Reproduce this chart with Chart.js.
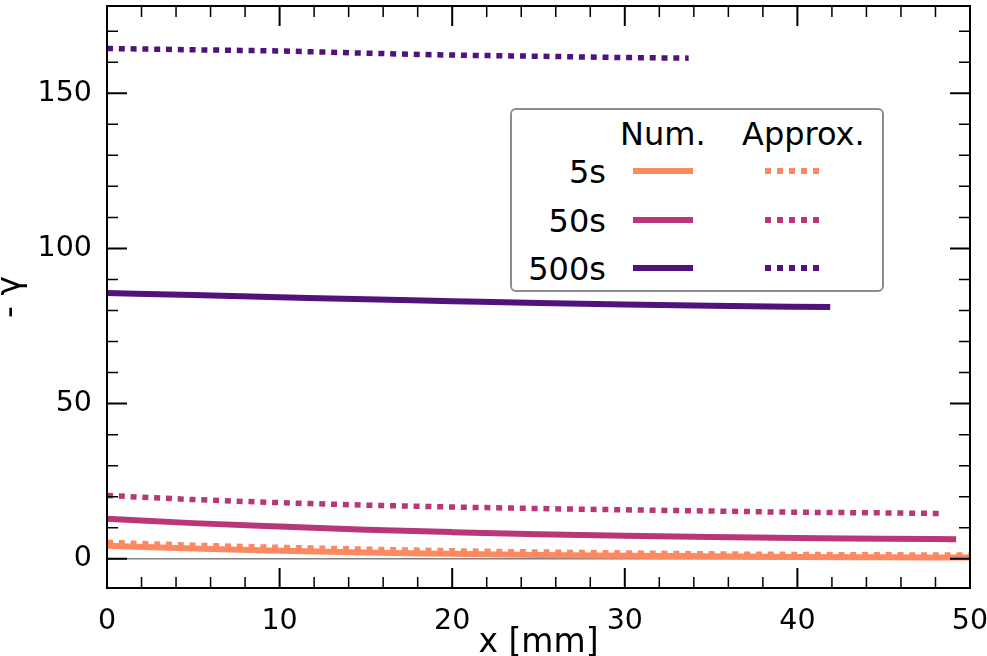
<!DOCTYPE html>
<html lang="en">
<head>
    <meta charset="UTF-8">
    <title>- γ vs x [mm]</title>
    <style>
        body {
            margin: 0;
            background: #ffffff;
            font-family: "DejaVu Sans", sans-serif;
        }
        #wrap {
            position: relative;
            width: 987px;
            height: 656px;
            overflow: hidden;
        }
        #legendBox {
            position: absolute;
            left: 510px;
            top: 108px;
            width: 370px;
            height: 180px;
            border: 2px solid #8c8c8c;
            border-radius: 6px;
            background: #ffffff;
        }
        .lg-text {
            position: absolute;
            font-size: 32px;
            line-height: 32px;
            white-space: nowrap;
            color: #000000;
        }
        .lg-line {
            position: absolute;
        }
    </style>
    <script src="https://cdn.jsdelivr.net/npm/chart.js"></script>
</head>
<body>
    <div id="wrap">
        <canvas id="gammaChart" width="987" height="656"></canvas>
        <div id="legendBox"></div>
    </div>

    <script>
        // series labels and colours (magma colormap)
        const seriesNames = ['5s', '50s', '500s'];
        const colors = ['#fc8961', '#b73779', '#51127c'];
        const columnNames = ['Num.', 'Approx.'];

        // values
        const xs5 = [0, 5, 10, 15, 20, 25, 30, 35, 40, 45, 50];
        const num5 = [4.2, 3.3, 2.6, 2.0, 1.6, 1.2, 1.0, 0.8, 0.6, 0.5, 0.4];
        const approx5 = [5.3, 4.4, 3.7, 3.1, 2.6, 2.2, 1.9, 1.6, 1.4, 1.3, 1.2];

        const xsNum50 = [0, 5, 10, 15, 20, 25, 30, 35, 40, 45, 49.2];
        const num50 = [12.9, 11.5, 10.4, 9.4, 8.6, 7.9, 7.4, 7.0, 6.7, 6.5, 6.3];
        const xsApprox50 = [0, 5, 10, 15, 20, 25, 30, 35, 40, 45, 48.3];
        const approx50 = [20.4, 19.1, 18.1, 17.3, 16.7, 16.2, 15.8, 15.4, 15.0, 14.8, 14.6];

        const xsNum500 = [0, 5, 10, 15, 20, 25, 30, 35, 41.9];
        const num500 = [85.6, 85.0, 84.3, 83.6, 83.0, 82.4, 81.9, 81.5, 81.1];
        const xsApprox500 = [0, 5, 10, 15, 20, 25, 30, 33.7];
        const approx500 = [164.4, 164.0, 163.6, 162.9, 162.3, 161.9, 161.5, 161.3];

        const xsZero = [0, 50];
        const zeroLine = [0, 0];

        // axes
        const xTicks = [0, 10, 20, 30, 40, 50];
        const yTicks = [0, 50, 100, 150];
        const xRange = [0, 50];
        const yRange = [-9.4, 178.1];

        function pts(xs, ys) {
            return xs.map((x, i) => ({ x: x, y: ys[i] }));
        }

        function solid(label, xs, ys, color) {
            return {
                label: label,
                data: pts(xs, ys),
                borderColor: color,
                borderWidth: 6,
                pointRadius: 0,
                cubicInterpolationMode: 'monotone',
                fill: false
            };
        }

        function dotted(label, xs, ys, color) {
            return {
                label: label,
                data: pts(xs, ys),
                borderColor: color,
                borderWidth: 5.5,
                borderDash: [6, 5.8],
                borderCapStyle: 'butt',
                pointRadius: 0,
                cubicInterpolationMode: 'monotone',
                fill: false
            };
        }

        // first dataset is painted on top
        const datasets = [
            dotted('500s Approx.', xsApprox500, approx500, colors[2]),
            solid('500s Num.', xsNum500, num500, colors[2]),
            dotted('50s Approx.', xsApprox50, approx50, colors[1]),
            solid('50s Num.', xsNum50, num50, colors[1]),
            dotted('5s Approx.', xs5, approx5, colors[0]),
            solid('5s Num.', xs5, num5, colors[0]),
            {
                label: 'zero',
                data: pts(xsZero, zeroLine),
                borderColor: '#808080',
                borderWidth: 1.5,
                pointRadius: 0,
                fill: false
            }
        ];

        // frame and inward ticks on all four sides
        const frameTicks = {
            id: 'frameTicks',
            afterDatasetsDraw(chart) {
                const ctx = chart.ctx;
                const a = chart.chartArea;
                const xs = chart.scales.x;
                const ys = chart.scales.y;
                ctx.save();
                ctx.strokeStyle = '#000000';

                ctx.lineWidth = 1.5;
                for (let v = Math.ceil(xs.min / 2) * 2; v <= xs.max; v += 2) {
                    if (v % 10 === 0) continue;
                    const px = xs.getPixelForValue(v);
                    ctx.beginPath();
                    ctx.moveTo(px, a.bottom); ctx.lineTo(px, a.bottom - 11);
                    ctx.moveTo(px, a.top); ctx.lineTo(px, a.top + 11);
                    ctx.stroke();
                }
                for (let v = Math.ceil(ys.min / 10) * 10; v <= ys.max; v += 10) {
                    if (v % 50 === 0) continue;
                    const py = ys.getPixelForValue(v);
                    ctx.beginPath();
                    ctx.moveTo(a.left, py); ctx.lineTo(a.left + 11, py);
                    ctx.moveTo(a.right, py); ctx.lineTo(a.right - 11, py);
                    ctx.stroke();
                }

                ctx.lineWidth = 2;
                xTicks.forEach(v => {
                    const px = xs.getPixelForValue(v);
                    ctx.beginPath();
                    ctx.moveTo(px, a.bottom); ctx.lineTo(px, a.bottom - 20);
                    ctx.moveTo(px, a.top); ctx.lineTo(px, a.top + 20);
                    ctx.stroke();
                });
                yTicks.forEach(v => {
                    const py = ys.getPixelForValue(v);
                    ctx.beginPath();
                    ctx.moveTo(a.left, py); ctx.lineTo(a.left + 20, py);
                    ctx.moveTo(a.right, py); ctx.lineTo(a.right - 20, py);
                    ctx.stroke();
                });

                ctx.lineWidth = 2;
                ctx.strokeRect(a.left, a.top, a.right - a.left, a.bottom - a.top);
                ctx.restore();
            }
        };

        Chart.defaults.font.family = "'DejaVu Sans', sans-serif";
        Chart.defaults.color = '#000000';

        const ctx = document.getElementById('gammaChart').getContext('2d');
        const gammaChart = new Chart(ctx, {
            type: 'line',
            data: { datasets: datasets },
            options: {
                responsive: false,
                animation: false,
                devicePixelRatio: 1,
                layout: { padding: { left: 0, right: 17, top: 6, bottom: 0 } },
                plugins: {
                    legend: { display: false },
                    tooltip: { enabled: false }
                },
                scales: {
                    x: {
                        type: 'linear',
                        min: xRange[0],
                        max: xRange[1],
                        grid: { display: false },
                        border: { display: false },
                        afterBuildTicks: s => { s.ticks = xTicks.map(v => ({ value: v })); },
                        afterFit: s => {
                            s.height = 68;
                            s.paddingLeft = 0;
                            s.paddingRight = 0;
                        },
                        ticks: { font: { size: 28.5 }, padding: 8, maxRotation: 0 },
                        title: {
                            display: true,
                            text: 'x [mm]',
                            font: { size: 33 },
                            padding: { top: 0, bottom: -7 }
                        }
                    },
                    y: {
                        type: 'linear',
                        min: yRange[0],
                        max: yRange[1],
                        grid: { display: false },
                        border: { display: false },
                        afterBuildTicks: s => { s.ticks = yTicks.map(v => ({ value: v })); },
                        afterFit: s => {
                            s.width = 107;
                            s.paddingTop = 0;
                            s.paddingBottom = 0;
                        },
                        ticks: { font: { size: 28.5 }, padding: 7 },
                        title: {
                            display: true,
                            text: '- γ',
                            font: { size: 33 },
                            padding: { top: -8, bottom: 0 }
                        }
                    }
                }
            },
            plugins: [frameTicks]
        });

        // legend: header row, then one row per series with solid and dotted samples
        const box = document.getElementById('legendBox');
        const boxLeft = 510, boxTop = 108;
        function addText(txt, x, baseline, alignRight) {
            const d = document.createElement('div');
            d.className = 'lg-text';
            d.textContent = txt;
            d.style.top = (baseline - 27 - boxTop - 2) + 'px';
            if (alignRight) {
                d.style.right = (boxLeft + 374 - x - 2) + 'px';
            } else {
                d.style.left = (x - boxLeft - 2) + 'px';
            }
            box.appendChild(d);
        }
        addText(columnNames[0], 620, 145, false);
        addText(columnNames[1], 742, 145, false);

        const rowCenters = [171, 219.5, 268];
        seriesNames.forEach((name, i) => {
            const cy = rowCenters[i];
            addText(name, 606, cy + 12, true);

            const s = document.createElement('div');
            s.className = 'lg-line';
            s.style.left = (633 - boxLeft - 2) + 'px';
            s.style.top = (cy - 3 - boxTop - 2) + 'px';
            s.style.width = '60px';
            s.style.height = '6px';
            s.style.background = colors[i];
            box.appendChild(s);

            const d = document.createElement('div');
            d.className = 'lg-line';
            d.style.left = (765 - boxLeft - 2) + 'px';
            d.style.top = (cy - 3 - boxTop - 2) + 'px';
            d.style.width = '54px';
            d.style.height = '6px';
            d.style.background = 'repeating-linear-gradient(to right, ' + colors[i] + ' 0 6px, transparent 6px 12px)';
            box.appendChild(d);
        });
    </script>
</body>
</html>
